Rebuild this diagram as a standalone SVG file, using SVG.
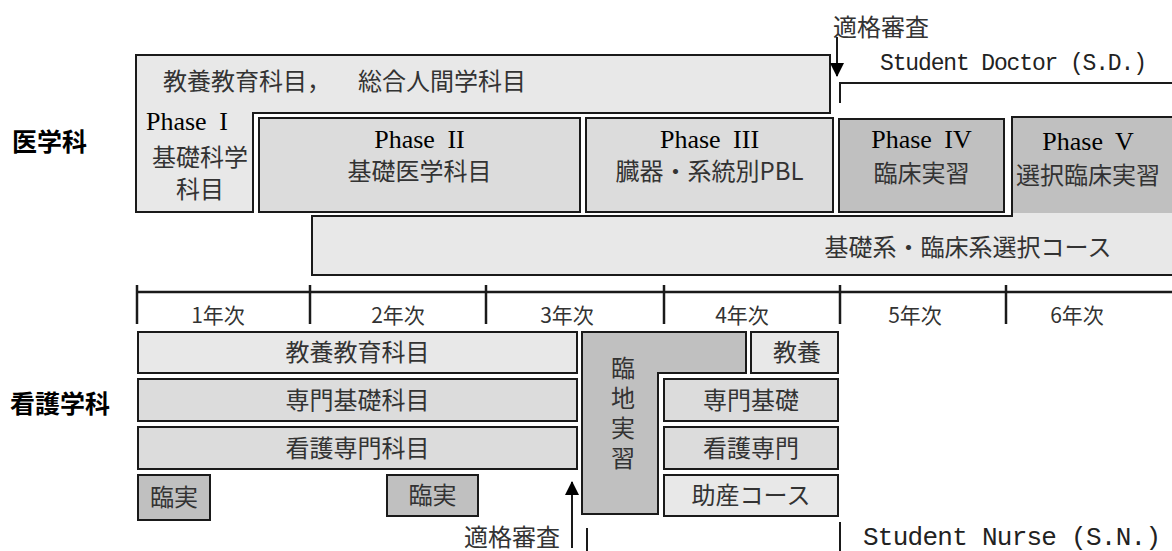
<svg xmlns="http://www.w3.org/2000/svg" width="1172" height="551" viewBox="0 0 1172 551">
<style>
.box{stroke:#1a1a1a;stroke-width:2}
.l1{fill:#e8e8e8}
.l2{fill:#dcdcdc}
.l3{fill:#c0c0c0}
.jp{font-family:"Noto Sans CJK JP","Noto Sans CJK SC",sans-serif;font-size:24px;fill:#333}
.ph{font-family:"Liberation Serif",serif;font-size:26px;fill:#000;word-spacing:6px}
.dept{font-family:"Noto Sans CJK JP",sans-serif;font-size:25px;font-weight:bold;fill:#000}
.yr{font-family:"Noto Sans CJK JP",sans-serif;font-size:21px;fill:#333;text-anchor:middle}
.mono{font-family:"Liberation Mono",monospace;fill:#222}
.c{text-anchor:middle}
.ln{stroke:#1a1a1a;stroke-width:2;fill:none}
.tick{stroke:#1a1a1a;stroke-width:2.5;fill:none}
</style>
<defs>
<marker id="ah" viewBox="0 0 14 14" refX="13" refY="7" markerWidth="14" markerHeight="14" markerUnits="userSpaceOnUse" orient="auto">
<path d="M0,0 L14,7 L0,14 Z" fill="#000"/>
</marker>
</defs>

<g id="label-igaku"><text class="dept" x="12" y="151">医学科</text></g>
<g id="label-kango"><text class="dept" x="10" y="413">看護学科</text></g>

<g id="kyoyo-sogo">
<path class="box l1" d="M136,55 H830 V113 H253 V212 H136 Z"/>
<text class="jp" x="163" y="90">教養教育科目，<tspan x="358">総合人間学科目</tspan></text>
<text class="ph" x="146" y="130" font-size="25">Phase I</text>
<text class="jp c" x="200" y="166" font-size="21.5">基礎科学</text>
<text class="jp c" x="200" y="198" font-size="21.5">科目</text>
</g>

<g id="kiso-rinsho-course">
<path class="box l1" d="M312,216 H1012 V117 H1180 V275 H312 Z"/>
<text class="jp c" x="968" y="256">基礎系・臨床系選択コース</text>
</g>

<g id="phase2">
<rect class="box l2" x="259" y="118" width="321" height="94"/>
<text class="ph c" x="419.5" y="148">Phase II</text>
<text class="jp c" x="419.5" y="180">基礎医学科目</text>
</g>

<g id="phase3">
<rect class="box l2" x="586" y="118" width="247" height="94"/>
<text class="ph c" x="709.5" y="148">Phase III</text>
<text class="jp c" x="709.5" y="180">臓器・系統別PBL</text>
</g>

<g id="phase4">
<rect class="box l3" x="839" y="119" width="165" height="93"/>
<text class="ph c" x="921.5" y="148">Phase IV</text>
<text class="jp c" x="921.5" y="182">臨床実習</text>
</g>

<g id="phase5">
<rect class="l3" x="1013" y="118" width="165" height="95"/>
<text class="ph c" x="1088" y="150">Phase V</text>
<text class="jp c" x="1088" y="184">選択臨床実習</text>
</g>

<g id="timeline">
<line class="tick" x1="137" y1="292" x2="1172" y2="292"/>
<line class="tick" x1="137" y1="285" x2="137" y2="324"/>
<line class="tick" x1="310" y1="285" x2="310" y2="324"/>
<line class="tick" x1="486" y1="285" x2="486" y2="324"/>
<line class="tick" x1="664" y1="285" x2="664" y2="324"/>
<line class="tick" x1="840" y1="285" x2="840" y2="324"/>
<line class="tick" x1="1006" y1="285" x2="1006" y2="324"/>
<text class="yr" x="218" y="323">1年次</text>
<text class="yr" x="398" y="323">2年次</text>
<text class="yr" x="567" y="323">3年次</text>
<text class="yr" x="742" y="323">4年次</text>
<text class="yr" x="915" y="323">5年次</text>
<text class="yr" x="1077" y="323">6年次</text>
</g>

<g id="n-kyoyo">
<rect class="box l1" x="138" y="332" width="439" height="41"/>
<text class="jp c" x="357.5" y="361">教養教育科目</text>
</g>
<g id="n-senmon-kiso">
<rect class="box l2" x="138" y="379" width="439" height="42"/>
<text class="jp c" x="357.5" y="409">専門基礎科目</text>
</g>
<g id="n-kango-senmon">
<rect class="box l2" x="138" y="427" width="439" height="42"/>
<text class="jp c" x="357.5" y="457">看護専門科目</text>
</g>
<g id="n-rinjitsu1">
<rect class="box l3" x="138" y="475" width="72" height="45"/>
<text class="jp c" x="174" y="506">臨実</text>
</g>
<g id="n-rinjitsu2">
<rect class="box l3" x="387" y="475" width="91" height="41"/>
<text class="jp c" x="432.5" y="504">臨実</text>
</g>
<g id="n-rinchi-jisshu">
<path class="box l3" d="M582,332 H746 V373 H658 V514 H582 Z"/>
<text class="jp" x="623" y="356" writing-mode="vertical-rl" letter-spacing="6">臨地実習</text>
</g>
<g id="n-kyoyo2">
<rect class="box l1" x="751" y="332" width="87" height="41"/>
<text class="jp c" x="797" y="361">教養</text>
</g>
<g id="n-senmon-kiso2">
<rect class="box l2" x="664" y="379" width="174" height="42"/>
<text class="jp c" x="751" y="409">専門基礎</text>
</g>
<g id="n-kango-senmon2">
<rect class="box l2" x="664" y="427" width="174" height="42"/>
<text class="jp c" x="751" y="457">看護専門</text>
</g>
<g id="n-josan">
<rect class="box l1" x="664" y="475" width="174" height="41"/>
<text class="jp c" x="751" y="504">助産コース</text>
</g>

<g id="connectors">
<line class="ln" x1="837" y1="37" x2="837" y2="76" marker-end="url(#ah)"/>
<path class="ln" d="M840,103 V83 H1172"/>
<line class="ln" x1="572" y1="548" x2="572" y2="482" marker-end="url(#ah)"/>
<line class="ln" x1="587" y1="528" x2="587" y2="551"/>
<line class="ln" x1="840" y1="522" x2="840" y2="551"/>
</g>

<g id="annotations">
<text class="jp" x="833" y="36" fill="#222">適格審査</text>
<text class="mono" x="880" y="70" font-size="23" textLength="267" lengthAdjust="spacing">Student Doctor (S.D.)</text>
<text class="jp" x="464" y="546" font-size="23">適格審査</text>
<text class="mono" x="863" y="545" font-size="26" textLength="298" lengthAdjust="spacing">Student Nurse (S.N.)</text>
</g>
</svg>
